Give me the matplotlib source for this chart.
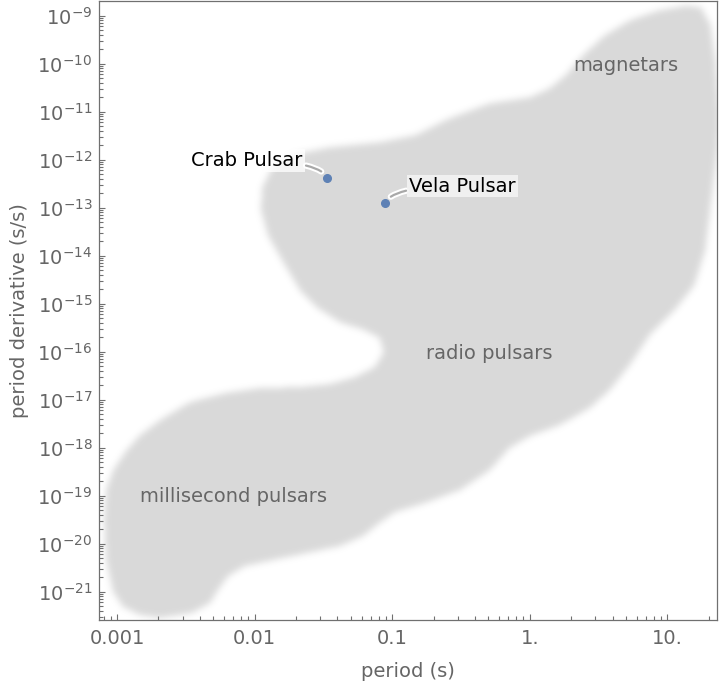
import numpy as np
import matplotlib
matplotlib.use('Agg')
import matplotlib.pyplot as plt
import matplotlib.patheffects as pe
from matplotlib.path import Path
from matplotlib.colors import LinearSegmentedColormap
from matplotlib.ticker import FixedLocator, NullFormatter

plt.rcParams['mathtext.default'] = 'regular'

# outline of the populated region, log10 of period (s) and log10 of period derivative (s/s)
region_log_period = [
    -3.094, -3.080, -3.029, -2.942, -2.833, -2.688, -2.469, -2.215, -1.961, -1.670,
    -1.452, -1.270, -1.125, -1.060, -1.089, -1.198, -1.379, -1.539, -1.670, -1.779,
    -1.903, -1.953, -1.946, -1.874, -1.706, -1.452, -1.089, -0.834, -0.580, -0.289,
    0.001, 0.147, 0.270, 0.387, 0.547, 0.728, 0.946, 1.142, 1.251, 1.317,
    1.353, 1.382, 1.367, 1.323, 1.279, 1.199, 1.055, 0.874, 0.728, 0.583,
    0.438, 0.219, 0.001, -0.146, -0.289, -0.507, -0.762, -0.980, -1.103, -1.212,
    -1.379, -1.619, -1.866, -2.070, -2.193, -2.266, -2.324, -2.455, -2.688, -2.833,
    -2.956, -3.029, -3.080,
]
region_log_pdot = [
    -19.506, -18.881, -18.465, -18.090, -17.735, -17.423, -17.048, -16.860, -16.756, -16.735,
    -16.673, -16.527, -16.319, -16.006, -15.715, -15.548, -15.381, -15.090, -14.715, -14.194,
    -13.569, -13.048, -12.590, -12.173, -11.881, -11.735, -11.631, -11.485, -11.131, -10.819,
    -10.694, -10.506, -10.215, -9.819, -9.402, -9.090, -8.881, -8.777, -8.819, -9.194,
    -9.923, -11.173, -11.798, -12.840, -13.881, -14.610, -15.131, -15.652, -16.277, -16.798,
    -17.173, -17.527, -17.756, -18.006, -18.465, -18.881, -19.152, -19.340, -19.590, -19.840,
    -20.048, -20.194, -20.340, -20.465, -20.673, -20.965, -21.236, -21.444, -21.548, -21.485,
    -21.319, -21.006, -20.340,
]

pulsar_names = ['Crab Pulsar', 'Vela Pulsar']
pulsar_period = [0.0334, 0.0893]
pulsar_pdot = [4.2e-13, 1.25e-13]

region_names = ['magnetars', 'radio pulsars', 'millisecond pulsars']
region_label_period = [5.0, 0.505, 0.00703]
region_label_pdot = [9.3e-11, 9.3e-17, 9.5e-20]

x_ticks = [0.001, 0.01, 0.1, 1, 10]
x_tick_labels = ['0.001', '0.01', '0.1', '1.', '10.']
y_exponents = list(range(-21, -8))

xlim = (7.436e-4, 22.94)
ylim = (2.535e-22, 1.995e-9)

gray = '#666666'
axis_gray = '#707070'

fig = plt.figure(figsize=(7.2, 6.84), dpi=100)
ax = fig.add_axes([99.3 / 720, 1 - 620.3 / 684, (717 - 99.3) / 720, (620.3 - 1.3) / 684])
ax.set_xscale('log')
ax.set_yscale('log')

# soft-edged region: rasterise outline on a log grid and blur it
lx0, lx1 = np.log10(xlim[0]) - 0.12, np.log10(xlim[1]) + 0.12
ly0, ly1 = np.log10(ylim[0]) - 0.35, np.log10(ylim[1]) + 0.35
nx = int((lx1 - lx0) * 137.6)
ny = int((ly1 - ly0) * 48.0)
ex = np.linspace(lx0, lx1, nx + 1)
ey = np.linspace(ly0, ly1, ny + 1)
cx = 0.5 * (ex[1:] + ex[:-1])
cy = 0.5 * (ey[1:] + ey[:-1])
gx, gy = np.meshgrid(cx, cy)
outline = Path(np.column_stack([region_log_period, region_log_pdot]))
mask = outline.contains_points(np.column_stack([gx.ravel(), gy.ravel()])).reshape(gx.shape).astype(float)


def blur(a, sigma):
    r = int(3 * sigma)
    k = np.exp(-0.5 * (np.arange(-r, r + 1) / sigma) ** 2)
    k /= k.sum()
    a = np.apply_along_axis(lambda v: np.convolve(v, k, mode='same'), 0, a)
    a = np.apply_along_axis(lambda v: np.convolve(v, k, mode='same'), 1, a)
    return a


field = blur(mask, 3.5)
cmap = LinearSegmentedColormap.from_list('blob', ['#ffffff', '#d9d9d9'])
ax.pcolormesh(10 ** ex, 10 ** ey, field, cmap=cmap, vmin=0, vmax=1,
              shading='flat', antialiased=False, linewidth=0, zorder=0)

# region labels
for name, p, pd in zip(region_names, region_label_period, region_label_pdot):
    ax.text(p, pd, name, color=gray, fontsize=14, ha='center', va='center', zorder=2)

# pulsars
ax.plot(pulsar_period, pulsar_pdot, 'o', color='#5e81b5', markersize=5.5, zorder=4)

halo = [pe.Stroke(linewidth=4.5, foreground='white'), pe.Normal()]
ax.annotate(pulsar_names[0], xy=(pulsar_period[0], pulsar_pdot[0]), xytext=(-24, 17),
            textcoords='offset pixels', ha='right', va='center', fontsize=14, color='black',
            bbox=dict(boxstyle='square,pad=0.1', fc='white', ec='none', alpha=0.75),
            arrowprops=dict(arrowstyle='-', color='#a8a8a8', lw=1.6, shrinkA=1, shrinkB=6,
                            connectionstyle='angle3,angleA=0,angleB=-70', path_effects=halo),
            zorder=3)
ax.annotate(pulsar_names[1], xy=(pulsar_period[1], pulsar_pdot[1]), xytext=(24, 17),
            textcoords='offset pixels', ha='left', va='center', fontsize=14, color='black',
            bbox=dict(boxstyle='square,pad=0.1', fc='#f3f3f3', ec='none', alpha=0.9),
            arrowprops=dict(arrowstyle='-', color='#a8a8a8', lw=1.6, shrinkA=1, shrinkB=6,
                            connectionstyle='angle3,angleA=0,angleB=-110', path_effects=halo),
            zorder=3)

ax.set_xlim(*xlim)
ax.set_ylim(*ylim)

ax.xaxis.set_major_locator(FixedLocator(x_ticks))
ax.set_xticklabels(x_tick_labels)
x_minor = [m * 10.0 ** e for e in range(-4, 2) for m in range(2, 10)]
ax.xaxis.set_minor_locator(FixedLocator(x_minor))
ax.xaxis.set_minor_formatter(NullFormatter())

ax.yaxis.set_major_locator(FixedLocator([10.0 ** e for e in y_exponents]))
ax.set_yticklabels([r'$10^{%d}$' % e for e in y_exponents])
y_minor = [m * 10.0 ** e for e in range(-23, -8) for m in range(2, 10)]
ax.yaxis.set_minor_locator(FixedLocator(y_minor))
ax.yaxis.set_minor_formatter(NullFormatter())

ax.tick_params(which='both', direction='in', color=axis_gray, width=0.8,
               top=False, right=False, labelcolor=gray, labelsize=14)
ax.tick_params(which='major', length=4.5)
ax.tick_params(which='minor', length=2.8)
ax.tick_params(axis='x', which='major', pad=6)
ax.tick_params(axis='y', which='major', pad=5)
for s in ax.spines.values():
    s.set_color(axis_gray)
    s.set_linewidth(0.9)

ax.set_xlabel('period (s)', color=gray, fontsize=14, labelpad=10)
ax.set_ylabel('period derivative (s/s)', color=gray, fontsize=14, labelpad=6)

fig.savefig('out.png', dpi=100)
